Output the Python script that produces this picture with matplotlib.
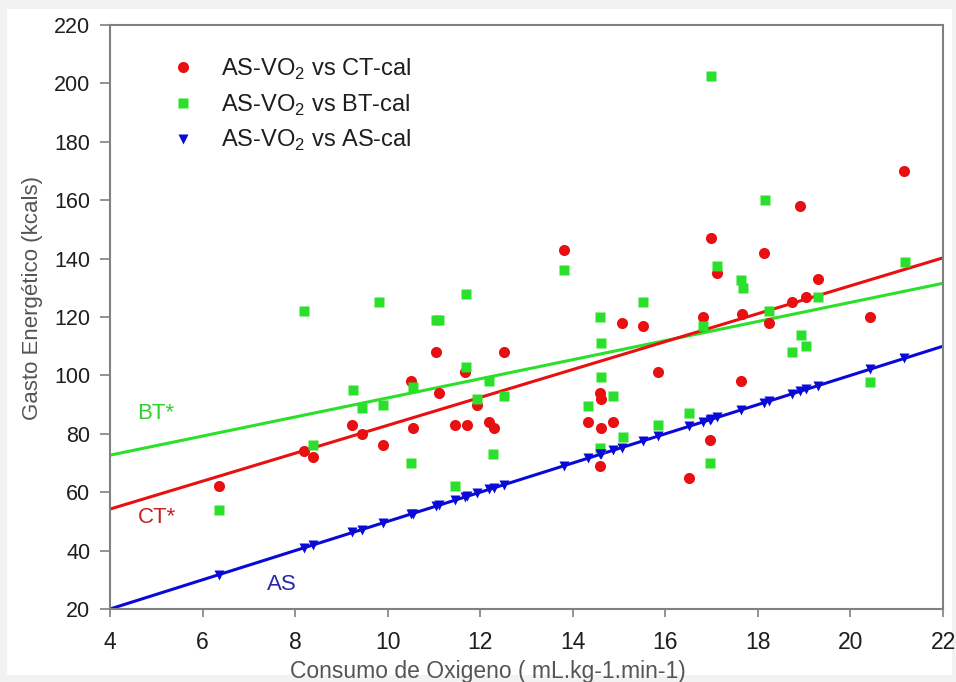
import numpy as np
import matplotlib.pyplot as plt
from matplotlib.patches import Rectangle

# AS-VO2 vs CT-cal (red circles)
ct_x = [6.36, 8.19, 8.39, 9.24, 9.44, 9.89, 10.50, 10.54, 11.04, 11.11, 11.45,
        11.67, 11.71, 11.94, 12.20, 12.29, 12.51, 13.82, 14.32, 14.59, 14.62,
        14.62, 14.86, 14.59, 15.06, 15.52, 15.85, 16.52, 16.82, 16.99, 16.96,
        17.11, 17.63, 17.65, 18.14, 18.24, 18.73, 18.92, 19.04, 19.30, 20.43,
        21.16]
ct_y = [62, 74, 72, 83, 80, 76, 98, 82, 108, 94, 83,
        101, 83, 90, 84, 82, 108, 143, 84, 94, 92,
        82, 84, 69, 118, 117, 101, 65, 120, 147, 78,
        135, 98, 121, 142, 118, 125, 158, 127, 133, 120,
        170]

# AS-VO2 vs BT-cal (green squares)
bt_x = [6.36, 8.19, 8.39, 9.26, 9.44, 9.82, 9.89, 10.50, 10.54, 11.04, 11.11,
        11.45, 11.69, 11.70, 11.92, 12.19, 12.28, 12.52, 13.81, 14.32, 14.59,
        14.62, 14.62, 14.86, 14.59, 15.08, 15.52, 15.85, 16.52, 16.82, 16.96,
        16.99, 17.11, 17.63, 17.67, 18.15, 18.25, 18.73, 18.94, 19.05, 19.30,
        20.43, 21.18]
bt_y = [54, 122, 76, 95, 89, 125, 90, 70, 96, 119, 119,
        62, 128, 103, 92, 98, 73, 93, 136, 89.5, 120,
        111, 99.5, 93, 75, 79, 125, 83, 87, 117, 70,
        202.5, 137.5, 132.7, 130, 160, 122, 108, 114, 110, 127,
        97.6, 139]

# AS-VO2 vs AS-cal (blue triangles)
as_x = [6.36, 8.19, 8.39, 9.24, 9.44, 9.89, 10.50, 10.54, 11.04, 11.11, 11.45,
        11.67, 11.71, 11.94, 12.20, 12.29, 12.51, 13.82, 14.32, 14.59, 14.62,
        14.86, 15.06, 15.52, 15.85, 16.52, 16.82, 16.96, 16.99, 17.11, 17.63,
        18.14, 18.24, 18.73, 18.92, 19.04, 19.30, 20.43, 21.16]
as_y = [31.8, 41.0, 42.0, 46.2, 47.2, 49.5, 52.5, 52.7, 55.2, 55.6, 57.2,
        58.4, 58.6, 59.7, 61.0, 61.5, 62.6, 69.1, 71.6, 73.0, 73.1,
        74.3, 75.3, 77.6, 79.3, 82.6, 84.1, 84.8, 85.0, 85.6, 88.2,
        90.7, 91.2, 93.7, 94.6, 95.2, 96.5, 102.2, 105.8]

# regression lines: (slope, intercept)
ct_fit = (4.78, 35.1)
bt_fit = (3.27, 59.6)
as_fit = (5.0, 0.0)

x_ticks = [4, 6, 8, 10, 12, 14, 16, 18, 20, 22]
y_ticks = [20, 40, 60, 80, 100, 120, 140, 160, 180, 200, 220]

red = '#e81010'
green = '#2ae02a'
blue = '#0a0ad8'

plt.rcParams['font.family'] = ['Liberation Sans', 'DejaVu Sans']

fig = plt.figure(figsize=(9.56, 6.82), dpi=100, facecolor='#f2f2f2')
fig.patches.append(Rectangle((7 / 956, 7 / 682), 945 / 956, 666 / 682,
                             transform=fig.transFigure, facecolor='white',
                             edgecolor='none', zorder=-10))
ax = fig.add_axes([110 / 956, 73 / 682, 833 / 956, 584 / 682])
ax.set_facecolor('white')

xx = np.array([4, 22])
ax.plot(xx, bt_fit[0] * xx + bt_fit[1], color=green, lw=2.2, zorder=2)
ax.plot(xx, ct_fit[0] * xx + ct_fit[1], color=red, lw=2.2, zorder=2)
ax.plot(xx, as_fit[0] * xx + as_fit[1], color=blue, lw=2.2, zorder=2)

ax.plot(ct_x, ct_y, 'o', color=red, ms=8, mec='none', zorder=3,
        label=r'AS-VO$_\mathregular{2}$ vs CT-cal')
ax.plot(bt_x, bt_y, 's', color=green, ms=7.2, mec='none', zorder=3,
        label=r'AS-VO$_\mathregular{2}$ vs BT-cal')
ax.plot(as_x, as_y, 'v', color=blue, ms=7, mec='none', zorder=4,
        label=r'AS-VO$_\mathregular{2}$ vs AS-cal')

ax.text(4.58, 87, 'BT*', color='#30d030', fontsize=16, va='center')
ax.text(4.6, 51.5, 'CT*', color='#c82020', fontsize=16, va='center')
ax.text(7.4, 28.5, 'AS', color='#2828a8', fontsize=16, va='center')

ax.set_xlim(4, 22)
ax.set_ylim(20, 220)
ax.set_xticks(x_ticks)
ax.set_yticks(y_ticks)
ax.tick_params(direction='out', width=1.2, color='#808080',
               labelcolor='#1e1e1e')
ax.tick_params(axis='y', length=7.2, labelsize=15.5, pad=7)
ax.tick_params(axis='x', length=6, labelsize=16.5, pad=10)
for sp in ax.spines.values():
    sp.set_color('#808080')
    sp.set_linewidth(1.5)

ax.set_xlabel('Consumo de Oxigeno ( mL.kg-1.min-1)', fontsize=16.5,
              color='#555555')
ax.xaxis.set_label_coords((488 - 110) / 833, -0.087)
ax.set_ylabel('Gasto Energético (kcals)', fontsize=16, color='#555555')
ax.yaxis.set_label_coords(-0.081, 0.5325)

leg = ax.legend(loc='upper left', bbox_to_anchor=(0.062, 0.962), frameon=False,
                fontsize=17, handlelength=1.0, handletextpad=1.1,
                labelspacing=0.45, borderaxespad=0)
for t in leg.get_texts():
    t.set_color('#1e1e1e')

fig.savefig('out.png', dpi=100, facecolor=fig.get_facecolor())
